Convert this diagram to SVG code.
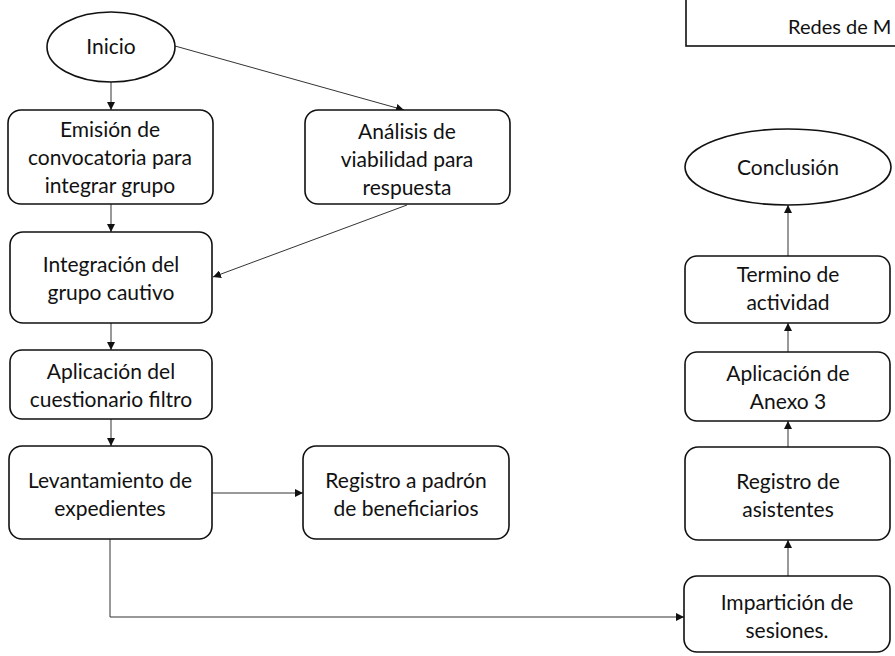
<svg xmlns="http://www.w3.org/2000/svg" width="895" height="656" viewBox="0 0 895 656">
<defs>
<style>
.n{fill:#fff;stroke:#111;stroke-width:1.6}
.t{font-family:Lato,"Open Sans","Liberation Sans",sans-serif;font-size:21px;fill:#111;text-anchor:middle}
.c{fill:none;stroke:#333;stroke-width:1;marker-end:url(#ah)}
</style>
<marker id="ah" viewBox="0 0 10 10" refX="10" refY="5" markerWidth="8" markerHeight="8" markerUnits="userSpaceOnUse" orient="auto">
<path d="M0,0 L10,5 L0,10 Z" fill="#111"/>
</marker>
</defs>
<rect width="895" height="656" fill="#fff"/>
<g id="redes">
<rect x="686" y="-5" width="220" height="51" fill="#fff" stroke="#111" stroke-width="1.6"/>
<text class="t" x="788" y="34" style="text-anchor:start;font-size:20px">Redes de M</text>
</g>
<g id="connectors">
<path class="c" d="M111,82 L111,110"/>
<path class="c" d="M175,46 L404,110"/>
<path class="c" d="M111,204 L111,232"/>
<path class="c" d="M407,205 L213,277"/>
<path class="c" d="M111,323 L111,350"/>
<path class="c" d="M111,419 L111,446"/>
<path class="c" d="M212,493 L303,493"/>
<path class="c" d="M110,539 L110,617 L684,617"/>
<path class="c" d="M788,576 L788,540"/>
<path class="c" d="M788,447 L788,421"/>
<path class="c" d="M788,352 L788,323"/>
<path class="c" d="M788,256 L788,205"/>
</g>
<g id="inicio">
<ellipse class="n" cx="111" cy="47" rx="64" ry="35"/>
<text class="t" x="111" y="54">Inicio</text>
</g>
<g id="emision">
<rect class="n" x="8" y="110" width="205" height="94" rx="13"/>
<text class="t" x="110" y="137">Emisión de</text>
<text class="t" x="110" y="165">convocatoria para</text>
<text class="t" x="110" y="193">integrar grupo</text>
</g>
<g id="analisis">
<rect class="n" x="305" y="110" width="205" height="94" rx="13"/>
<text class="t" x="407" y="139">Análisis de</text>
<text class="t" x="407" y="167">viabilidad para</text>
<text class="t" x="407" y="195">respuesta</text>
</g>
<g id="integracion">
<rect class="n" x="10" y="232" width="202" height="91" rx="13"/>
<text class="t" x="111" y="272">Integración del</text>
<text class="t" x="111" y="300">grupo cautivo</text>
</g>
<g id="cuestionario">
<rect class="n" x="10" y="350" width="202" height="69" rx="12"/>
<text class="t" x="111" y="379">Aplicación del</text>
<text class="t" x="111" y="407">cuestionario filtro</text>
</g>
<g id="levantamiento">
<rect class="n" x="9" y="446" width="203" height="93" rx="13"/>
<text class="t" x="110" y="488">Levantamiento de</text>
<text class="t" x="110" y="516">expedientes</text>
</g>
<g id="registro-padron">
<rect class="n" x="303" y="446" width="206" height="93" rx="13"/>
<text class="t" x="406" y="488">Registro a padrón</text>
<text class="t" x="406" y="516">de beneficiarios</text>
</g>
<g id="conclusion">
<ellipse class="n" cx="788" cy="167" rx="103" ry="38"/>
<text class="t" x="788" y="175">Conclusión</text>
</g>
<g id="termino">
<rect class="n" x="685" y="256" width="205" height="67" rx="12"/>
<text class="t" x="788" y="282">Termino de</text>
<text class="t" x="788" y="310">actividad</text>
</g>
<g id="anexo">
<rect class="n" x="685" y="352" width="205" height="69" rx="12"/>
<text class="t" x="788" y="381">Aplicación de</text>
<text class="t" x="788" y="409">Anexo 3</text>
</g>
<g id="asistentes">
<rect class="n" x="685" y="447" width="205" height="93" rx="13"/>
<text class="t" x="788" y="489">Registro de</text>
<text class="t" x="788" y="517">asistentes</text>
</g>
<g id="imparticion">
<rect class="n" x="684" y="576" width="206" height="76" rx="13"/>
<text class="t" x="787" y="610">Impartición de</text>
<text class="t" x="787" y="638">sesiones.</text>
</g>
</svg>
